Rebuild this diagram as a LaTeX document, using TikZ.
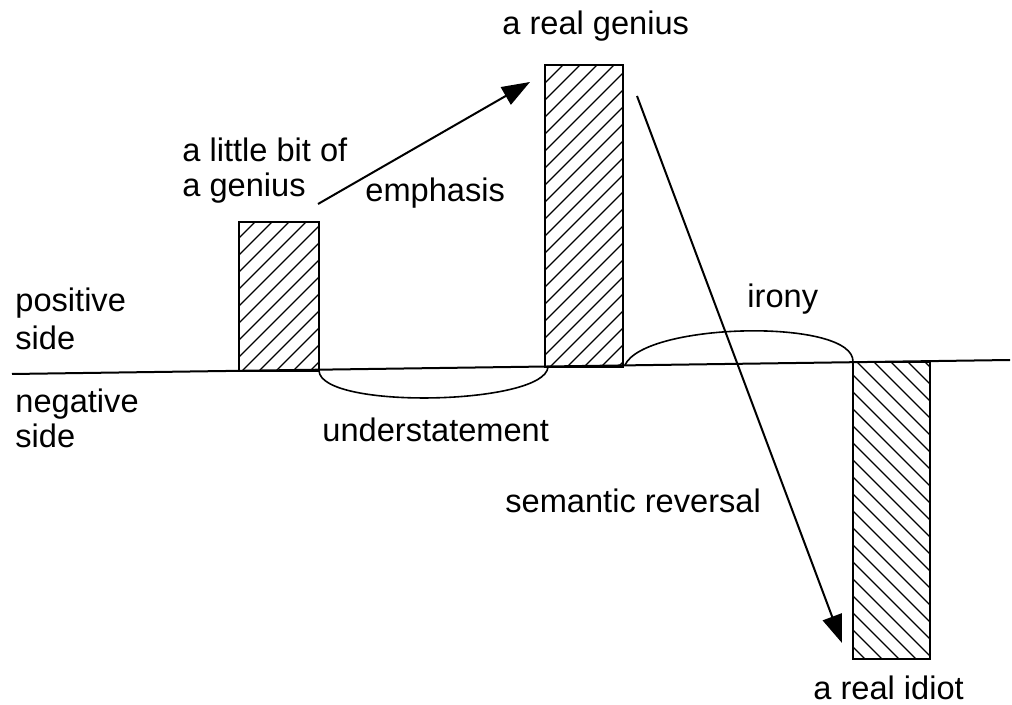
\documentclass[tikz,border=0pt]{standalone}
\usepackage{fontspec}
\setmainfont{Liberation Sans}
\usetikzlibrary{arrows.meta}
\begin{document}
\begin{tikzpicture}[x=0.5pt,y=-0.5pt,
  lbl/.style={anchor=base west,inner sep=0pt,font=\fontsize{16.3}{19.5}\selectfont},
  bar/.style={draw,line width=1pt},
  hatch/.style={line width=0.6pt},
  conn/.style={line width=1pt,-{Triangle[length=14pt,width=10pt]}},
  curve/.style={line width=0.8pt}]
\useasboundingbox (0,0) rectangle (1012,705);
% baseline
\coordinate (L) at (12,374);
\coordinate (R) at (1010,360);
\draw[line width=1pt] (L) -- (R);
% bars
\coordinate (b1a) at (239,222); \coordinate (b1b) at (319,371);
\coordinate (b2a) at (545,65);  \coordinate (b2b) at (623,367);
\coordinate (b3a) at (853,362); \coordinate (b3b) at (930,659);
\begin{scope}
  \clip (b1a) rectangle (b1b);
  \foreach \i in {-200,-183,...,400} \draw[hatch] (\i,371) -- ++(200,-200);
\end{scope}
\begin{scope}
  \clip (b2a) rectangle (b2b);
  \foreach \i in {-300,-283,...,700} \draw[hatch] (\i,367) -- ++(350,-350);
\end{scope}
\begin{scope}
  \clip (b3a) rectangle (b3b);
  \foreach \i in {500,517,...,1000} \draw[hatch] (\i,362) -- ++(350,350);
\end{scope}
\draw[bar] (b1a) rectangle (b1b);
\draw[bar] (b2a) rectangle (b2b);
\draw[bar] (b3a) rectangle (b3b);
% arcs
\coordinate (u1) at (319,371);
\coordinate (u2) at (548,367);
\draw[curve] (u1) .. controls (322,410) and (545,405) .. (u2);
\coordinate (i1) at (625,365);
\coordinate (i2) at (853,362);
\draw[curve] (i1) .. controls (645,322) and (855,318) .. (i2);
% arrows
\coordinate (e1) at (318,204);
\coordinate (e2) at (530,82);
\draw[conn] (e1) -- (e2);
\coordinate (s1) at (637,96);
\coordinate (s2) at (842,643);
\draw[conn] (s1) -- (s2);
% labels
\node[lbl] (tgenius) at (502,35) {a real genius};
\node[lbl] (tlittle1) at (182,162) {a little bit of};
\node[lbl] (tlittle2) at (182,197) {a genius};
\node[lbl] (temph) at (365,202) {emphasis};
\node[lbl] (tpos1) at (15,312) {positive};
\node[lbl] (tpos2) at (15,350) {side};
\node[lbl] (tneg1) at (15,413) {negative};
\node[lbl] (tneg2) at (15,448) {side};
\node[lbl] (tunder) at (322,442) {understatement};
\node[lbl] (tirony) at (747,308) {irony};
\node[lbl] (tsem) at (505,512) {semantic reversal};
\node[lbl] (tidiot) at (813,699) {a real idiot};
\end{tikzpicture}
\end{document}
